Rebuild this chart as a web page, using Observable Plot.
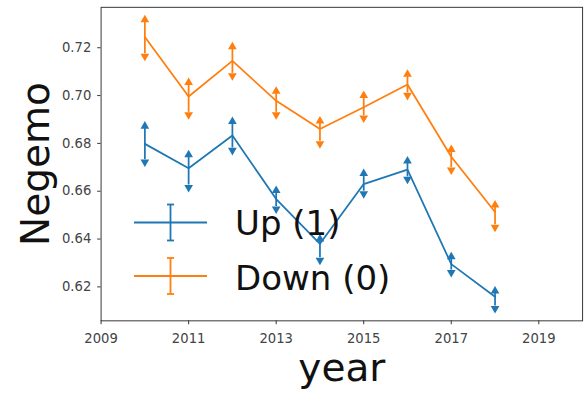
<!DOCTYPE html>
<html>
<head>
<meta charset="utf-8">
<script src="https://cdn.jsdelivr.net/npm/d3@7"></script>
<script src="https://cdn.jsdelivr.net/npm/@observablehq/plot@0.6"></script>
<style>
  html, body { margin: 0; padding: 0; background: #fff; overflow: hidden; width: 586px; height: 403px; }
  #wrap { position: relative; width: 586px; height: 403px; overflow: hidden; }
  #wrap > svg { position: absolute; left: 0; top: 0; }
</style>
</head>
<body>
<div id="wrap"></div>
<script>
// ---- data ----
const years = [2010, 2011, 2012, 2013, 2014, 2015, 2016, 2017, 2018];
const upMean = [0.6798, 0.6696, 0.6833, 0.6567, 0.6380, 0.6630, 0.6690, 0.6295, 0.6159];
const upLo   = [0.6732, 0.6626, 0.6781, 0.6536, 0.6322, 0.6600, 0.6660, 0.6270, 0.6120];
const upHi   = [0.6862, 0.6742, 0.6881, 0.6593, 0.6390, 0.6664, 0.6716, 0.6316, 0.6173];
const downMean = [0.7245, 0.6996, 0.7145, 0.6978, 0.6860, 0.6951, 0.7046, 0.6744, 0.6513];
const downLo   = [0.7175, 0.6930, 0.7093, 0.6930, 0.6809, 0.6916, 0.7011, 0.6699, 0.6460];
const downHi   = [0.7307, 0.7044, 0.7194, 0.7008, 0.6883, 0.6990, 0.7079, 0.6764, 0.6532];
const seriesNames = ["Up (1)", "Down (0)"];
const seriesColors = ["#1f77b4", "#ff7f0e"];
const xTicks = [2009, 2011, 2013, 2015, 2017, 2019];
const yTicks = [0.62, 0.64, 0.66, 0.68, 0.70, 0.72];

const up = years.map((y, i) => ({series: seriesNames[0], year: y, v: upMean[i], lo: upLo[i], hi: upHi[i]}));
const down = years.map((y, i) => ({series: seriesNames[1], year: y, v: downMean[i], lo: downLo[i], hi: downHi[i]}));

function seriesMarks(data, color) {
  return [
    Plot.line(data, {x: "year", y: "v", stroke: color, strokeWidth: 1.8}),
    Plot.ruleX(data, {x: "year", y1: "lo", y2: "hi", stroke: color, strokeWidth: 1.8}),
    Plot.dot(data, {x: "year", y: "hi", symbol: "triangle", r: 3.3, fill: color, stroke: "none", dy: -2.5}),
    Plot.dot(data, {x: "year", y: "lo", symbol: "triangle", r: 3.3, fill: color, stroke: "none", dy: 2.5, rotate: 180})
  ];
}

const chart = Plot.plot({
  width: 600,
  height: 403,
  marginLeft: 103,
  marginRight: 4,
  marginTop: 7,
  marginBottom: 75,
  style: {fontFamily: "DejaVu Sans", fontSize: "13.5px", background: "white", overflow: "visible"},
  x: {domain: [2009, 2020]},
  y: {domain: [0.6058, 0.7369]},
  marks: [
    Plot.axisX({ticks: xTicks, tickFormat: "d", tickSize: 4, tickPadding: 9.5, label: null, stroke: "#333", fill: "#444"}),
    Plot.axisY({ticks: yTicks, tickFormat: ".2f", tickSize: 3.5, tickPadding: 6.5, label: null, stroke: "#333", fill: "#444"}),
    ...seriesMarks(up, seriesColors[0]),
    ...seriesMarks(down, seriesColors[1]),
    Plot.frame({stroke: "#333", strokeWidth: 1}),
    Plot.text(["year"], {frameAnchor: "bottom", textAnchor: "middle", lineAnchor: "middle", dy: 49, fontSize: 40, fill: "#111"}),
    Plot.text(["Negemo"], {frameAnchor: "left", textAnchor: "middle", lineAnchor: "middle", dx: -66, rotate: -90, fontSize: 40, fill: "#111"})
  ]
});
document.getElementById("wrap").appendChild(chart);

// ---- legend overlay (inside axes, lower left) ----
const leg = d3.select("#wrap").append("svg")
  .attr("width", 586).attr("height", 403)
  .style("pointer-events", "none")
  .style("font-family", "DejaVu Sans");
const legRows = [
  {name: seriesNames[0], color: seriesColors[0], cy: 222.5, base: 235},
  {name: seriesNames[1], color: seriesColors[1], cy: 276, base: 290}
];
legRows.forEach(r => {
  const g = leg.append("g").attr("stroke", r.color).attr("stroke-width", 1.8);
  g.append("line").attr("x1", 134).attr("x2", 207).attr("y1", r.cy).attr("y2", r.cy);
  g.append("line").attr("x1", 170.5).attr("x2", 170.5).attr("y1", r.cy - 18).attr("y2", r.cy + 18);
  g.append("line").attr("x1", 167).attr("x2", 174).attr("y1", r.cy - 18).attr("y2", r.cy - 18);
  g.append("line").attr("x1", 167).attr("x2", 174).attr("y1", r.cy + 18).attr("y2", r.cy + 18);
  leg.append("text").attr("x", 235).attr("y", r.base).attr("font-size", 34).attr("fill", "#111").text(r.name);
});
</script>
</body>
</html>
